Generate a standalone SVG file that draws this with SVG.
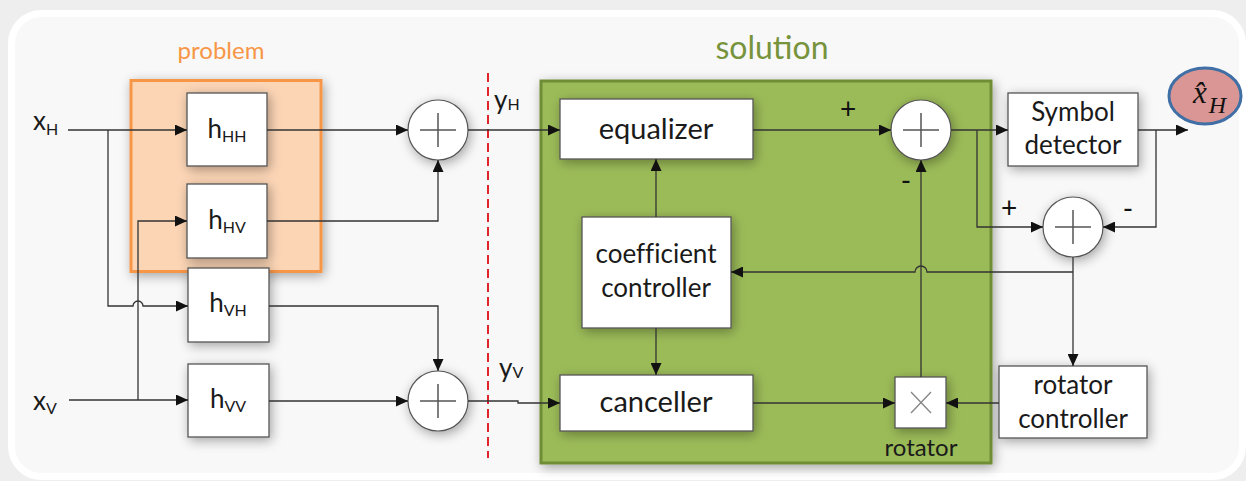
<svg xmlns="http://www.w3.org/2000/svg" width="1246" height="481" viewBox="0 0 1246 481">
<style>
.t{font-family:Lato,"Liberation Sans",sans-serif;fill:#1a1a1a;font-variant-ligatures:none;}
.box{fill:#fff;stroke:#555;stroke-width:1.3;}
.sum{fill:#fff;stroke:#555;stroke-width:1.2;}
.plus{stroke:#555;stroke-width:1.5;fill:none;}
.e{fill:none;stroke:#333;stroke-width:1.3;marker-end:url(#ah);}
.lbl{font-family:Lato,"Liberation Sans",sans-serif;fill:#111;font-size:28px;}
</style>
<defs>
<marker id="ah" markerUnits="userSpaceOnUse" markerWidth="12" markerHeight="11" refX="12" refY="5.5" orient="auto">
<path d="M0,0 L12,5.5 L0,11 Z" fill="#111"/>
</marker>
<filter id="sh" x="-40%" y="-40%" width="180%" height="180%">
<feGaussianBlur in="SourceAlpha" stdDeviation="6"/>
<feOffset dx="2" dy="3" result="b"/>
<feComponentTransfer><feFuncA type="linear" slope="0.35"/></feComponentTransfer>
<feMerge><feMergeNode/><feMergeNode in="SourceGraphic"/></feMerge>
</filter>
</defs>

<rect x="0" y="0" width="1246" height="481" fill="#eeeeee"/>
<rect x="11.5" y="13.5" width="1231" height="463" rx="30" fill="#f8f8f8" stroke="#ffffff" stroke-width="7"/>

<g id="problem">
<rect x="131" y="80.5" width="190" height="191" fill="#fcd5b5" stroke="#f79646" stroke-width="3" filter="url(#sh)"/>
<text x="221" y="59" text-anchor="middle" font-family="Lato,'Liberation Sans',sans-serif" font-size="24" fill="#f79646">problem</text>
</g>

<g id="solution">
<rect x="541" y="81" width="450" height="382" fill="#9bbb59" stroke="#6e8d35" stroke-width="3" filter="url(#sh)"/>
<text x="772" y="59" text-anchor="middle" font-family="Lato,'Liberation Sans',sans-serif" font-size="32" fill="#77933c">solution</text>
</g>

<line x1="488" y1="73" x2="488" y2="458" stroke="#e0242b" stroke-width="2" stroke-dasharray="9 5"/>

<g id="hHH">
<rect class="box" x="187" y="93" width="80" height="73" filter="url(#sh)"/>
<text class="t" x="227" y="138" text-anchor="middle" font-size="26">h<tspan font-size="16" dy="4">HH</tspan></text>
</g>
<g id="hHV">
<rect class="box" x="187" y="184" width="80" height="74" filter="url(#sh)"/>
<text class="t" x="227" y="229" text-anchor="middle" font-size="26">h<tspan font-size="16" dy="4">HV</tspan></text>
</g>
<g id="hVH">
<rect class="box" x="188" y="268" width="81" height="74" filter="url(#sh)"/>
<text class="t" x="228" y="312" text-anchor="middle" font-size="26">h<tspan font-size="16" dy="4">VH</tspan></text>
</g>
<g id="hVV">
<rect class="box" x="188" y="364" width="81" height="73" filter="url(#sh)"/>
<text class="t" x="228" y="408" text-anchor="middle" font-size="26">h<tspan font-size="16" dy="4">VV</tspan></text>
</g>

<g id="xH"><text class="t" x="33" y="130" font-size="26">x<tspan font-size="16" dy="5">H</tspan></text></g>
<g id="xV"><text class="t" x="33" y="410" font-size="26">x<tspan font-size="16" dy="4">V</tspan></text></g>
<g id="yH"><text class="t" x="494" y="109" font-size="26">y<tspan font-size="16" dy="1">H</tspan></text></g>
<g id="yV"><text class="t" x="499" y="377" font-size="26">y<tspan font-size="16" dy="1">V</tspan></text></g>

<g id="sum1">
<circle class="sum" cx="438" cy="130" r="30" filter="url(#sh)"/>
<path class="plus" d="M420,130 H456 M438,113 V147"/>
</g>
<g id="sum2">
<circle class="sum" cx="438" cy="401" r="30" filter="url(#sh)"/>
<path class="plus" d="M420,401 H456 M438,384 V418"/>
</g>

<g id="equalizer">
<rect class="box" x="560" y="99" width="193" height="60" filter="url(#sh)"/>
<text class="t" x="656" y="139" text-anchor="middle" font-size="29">equalizer</text>
</g>
<g id="coeff">
<rect class="box" x="582" y="217" width="149" height="111" filter="url(#sh)"/>
<text class="t" x="656" y="263" text-anchor="middle" font-size="26">coefficient</text>
<text class="t" x="656" y="297" text-anchor="middle" font-size="26">controller</text>
</g>
<g id="canceller">
<rect class="box" x="560" y="375" width="193" height="56" filter="url(#sh)"/>
<text class="t" x="656" y="412" text-anchor="middle" font-size="29">canceller</text>
</g>

<g id="sum3">
<circle class="sum" cx="921" cy="130" r="30" filter="url(#sh)"/>
<path class="plus" d="M903,130 H939 M921,113 V147"/>
</g>
<g id="sum4">
<circle class="sum" cx="1073" cy="227" r="30" filter="url(#sh)"/>
<path class="plus" d="M1055,227 H1091 M1073,210 V244"/>
</g>

<g id="detector">
<rect class="box" x="1008" y="93" width="130" height="73" filter="url(#sh)"/>
<text class="t" x="1073" y="121" text-anchor="middle" font-size="26">Symbol</text>
<text class="t" x="1073" y="154" text-anchor="middle" font-size="26">detector</text>
</g>

<g id="xhat">
<ellipse cx="1205" cy="96" rx="36" ry="28" fill="#d99694" stroke="#3f6fa5" stroke-width="3"/>
<text x="1193" y="103" font-family="'Liberation Serif',serif" font-size="31" fill="#111"><tspan font-style="italic">x̂</tspan><tspan font-style="italic" font-size="24" dx="2" dy="10">H</tspan></text>
</g>

<g id="rotatorController">
<rect class="box" x="999" y="366" width="148" height="72" filter="url(#sh)"/>
<text class="t" x="1073" y="394" text-anchor="middle" font-size="26">rotator</text>
<text class="t" x="1073" y="428" text-anchor="middle" font-size="26">controller</text>
</g>

<g id="rotator">
<rect class="box" x="895" y="377" width="51" height="51" filter="url(#sh)"/>
<path d="M911,392 L931,413 M931,392 L911,413" stroke="#888" stroke-width="1.4" fill="none"/>
<text class="t" x="921" y="456" text-anchor="middle" font-size="24">rotator</text>
</g>

<g id="signs">
<text class="lbl" x="848" y="119" text-anchor="middle">+</text>
<text class="lbl" x="906" y="191" text-anchor="middle">-</text>
<text class="lbl" x="1009" y="218" text-anchor="middle">+</text>
<text class="lbl" x="1128" y="219" text-anchor="middle">-</text>
</g>

<g id="connectors">
<path class="e" d="M68,130 H187"/>
<path class="e" d="M108,130 V306 H133 A5,5 0 0 1 143,306 H188"/>
<path class="e" d="M69,400 H188"/>
<path class="e" d="M138,400 V221 H187"/>
<path class="e" d="M267,130 H408"/>
<path class="e" d="M267,221 H438 V160"/>
<path class="e" d="M269,306 H438 V371"/>
<path class="e" d="M269,401 H408"/>
<path class="e" d="M468,130 H560"/>
<path class="e" d="M468,401 H518 V403 H560"/>
<path class="e" d="M656,217 V159"/>
<path class="e" d="M656,328 V375"/>
<path class="e" d="M753,130 H891"/>
<path class="e" d="M951,130 H1008"/>
<path class="e" d="M977,130 V227 H1043"/>
<path class="e" d="M1138,130 H1188"/>
<path class="e" d="M1156,130 V227 H1103"/>
<path class="e" d="M1073,257 V366"/>
<path class="e" d="M1073,272 H927 A6,6 0 0 0 915,272 H731"/>
<path class="e" d="M753,403 H895"/>
<path class="e" d="M999,403 H946"/>
<path class="e" d="M921,377 V160"/>
</g>
</svg>
